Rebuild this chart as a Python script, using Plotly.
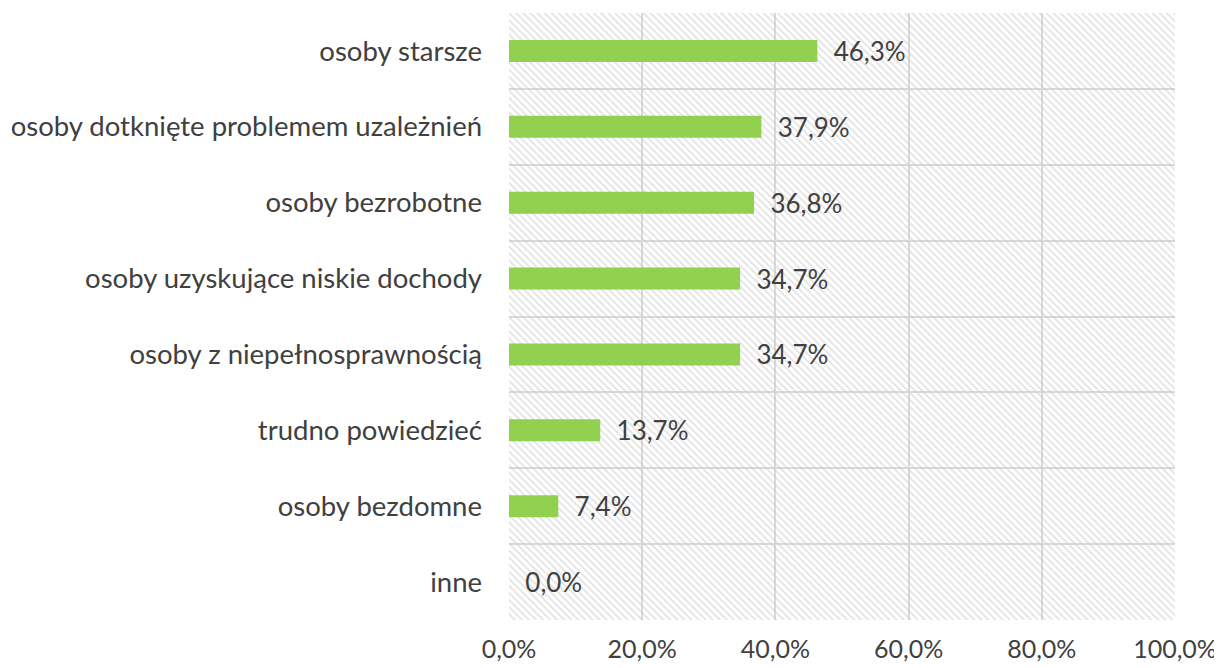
import plotly.graph_objects as go

categories = [
    "osoby starsze",
    "osoby dotknięte problemem uzależnień",
    "osoby bezrobotne",
    "osoby uzyskujące niskie dochody",
    "osoby z niepełnosprawnością",
    "trudno powiedzieć",
    "osoby bezdomne",
    "inne",
]
values = [46.3, 37.9, 36.8, 34.7, 34.7, 13.7, 7.4, 0.0]
tick_vals = [0, 20, 40, 60, 80, 100]

# plotly draws categories bottom-up, so reverse for top-down order
cats = categories[::-1]
vals = values[::-1]


def pct(v):
    return f"{v:.1f}%".replace(".", ",")


fig = go.Figure()

# hatched plot-area background (transparent so the grid shows through)
fig.add_trace(
    go.Bar(
        y=cats,
        x=[100] * len(cats),
        orientation="h",
        width=1,
        marker=dict(
            color="rgba(0,0,0,0)",
            line=dict(width=0),
            pattern=dict(shape="\\", fgcolor="#c8c8c8", bgcolor="rgba(0,0,0,0)",
                         size=5, solidity=0.35),
        ),
        hoverinfo="skip",
        showlegend=False,
    )
)

fig.add_trace(
    go.Bar(
        y=cats,
        x=vals,
        orientation="h",
        width=0.29,
        marker=dict(color="#92D050", line=dict(width=0)),
        text=["  " + pct(v) for v in vals],
        textposition="outside",
        constraintext="none",
        cliponaxis=False,
        textfont=dict(size=26, color="#404040", family="Lato"),
        showlegend=False,
    )
)

# body has an 8px default margin, so the figure is shrunk by that much
fig.update_layout(
    width=1214,
    height=660,
    barmode="overlay",
    plot_bgcolor="white",
    paper_bgcolor="white",
    font=dict(family="Lato", color="#404040", size=25),
    margin=dict(l=501, r=47, t=5, b=48, autoexpand=False),
)

fig.update_xaxes(
    range=[0, 100],
    tickvals=tick_vals,
    ticktext=[pct(v) for v in tick_vals],
    showgrid=True,
    gridcolor="#d9d9d9",
    gridwidth=1.5,
    zeroline=False,
    automargin=False,
    tickfont=dict(size=25, color="#404040"),
    ticklabelstandoff=12,
)

fig.update_yaxes(
    type="category",
    tickson="boundaries",
    showgrid=True,
    gridcolor="#d9d9d9",
    gridwidth=1.5,
    ticks="",
    showline=False,
    automargin=False,
    tickfont=dict(size=27.5, color="#404040"),
    ticklabelstandoff=26,
)

fig.write_html("out.html")
